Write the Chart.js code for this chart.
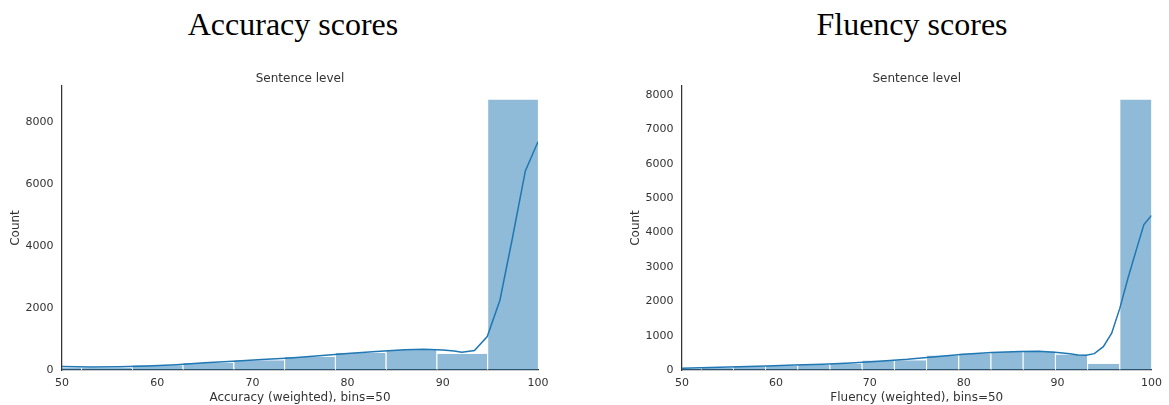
<!DOCTYPE html>
<html><head><meta charset="utf-8">
<script src="https://cdn.jsdelivr.net/npm/chart.js@4/dist/chart.umd.min.js"></script>
<style>
html,body{margin:0;padding:0;background:#fff;width:1169px;height:405px;overflow:hidden}
.wrap{position:absolute;top:0;height:405px}
.big{position:absolute;top:4px;font-family:'Liberation Serif',serif;font-size:32px;color:#000;white-space:nowrap;transform:translateX(-50%);line-height:40px}
canvas{display:block}
</style></head><body>
<div class="big" style="left:293px">Accuracy scores</div>
<div class="big" style="left:912px">Fluency scores</div>
<div class="wrap" style="left:0;width:584px"><canvas id="c1" width="584" height="405"></canvas></div>
<div class="wrap" style="left:584px;width:585px"><canvas id="c2" width="585" height="405"></canvas></div>
<script>
// ---- Accuracy (left) ----
const accBinCenters = [49.33, 54.67, 60.00, 65.33, 70.67, 76.00, 81.33, 86.67, 92.00, 97.33];
const accCounts     = [75, 75, 150, 226, 312, 430, 559, 645, 527, 8720];
const accKdeX = [50, 53, 56, 59, 62, 65, 68, 71, 74, 77, 80, 83, 86, 88, 90, 91.2, 92, 93.33, 94.67, 96, 97.33, 98.67, 100];
const accKdeY = [110, 100, 105, 130, 170, 230, 280, 335, 390, 460, 535, 600, 650, 665, 645, 610, 575, 625, 1080, 2250, 4280, 6420, 7360];
const accYTicks = [0, 2000, 4000, 6000, 8000];

// ---- Fluency (right) ----
const fluBinCenters = [50.27, 53.70, 57.13, 60.56, 63.99, 67.42, 70.85, 74.28, 77.71, 81.14, 84.57, 88.00, 91.43, 94.86, 98.29];
const fluCounts     = [40, 58, 88, 117, 146, 172, 280, 282, 420, 480, 530, 545, 452, 185, 7872];
const fluKdeX = [50, 53, 56, 59, 62, 65, 68, 71, 74, 77, 80, 83, 86, 88, 90, 91.3, 92.17, 93.04, 93.91, 94.87, 95.76, 96.63, 97.5, 98.39, 99.19, 100];
const fluKdeY = [50, 70, 95, 120, 145, 168, 205, 255, 310, 385, 455, 510, 540, 545, 510, 470, 440, 428, 476, 680, 1071, 1800, 2677, 3504, 4234, 4496];
const fluYTicks = [0, 1000, 2000, 3000, 4000, 5000, 6000, 7000, 8000];

const xTicks = [50, 60, 70, 80, 90, 100];
const subTitle = 'Sentence level';
const yTitle = 'Count';

const FONT = "'DejaVu Sans', sans-serif";
const TXT = '#333333';

function makeChart(id, o) {
  const yMax = Math.max(...o.counts) * 1.05;
  return new Chart(document.getElementById(id), {
    type: 'bar',
    data: { datasets: [
      { type: 'line', data: o.kdeX.map((x, i) => ({x, y: o.kdeY[i]})),
        borderColor: '#1f77b4', borderWidth: 1.5, pointRadius: 0, tension: 0, fill: false, order: 0 },
      { type: 'bar', data: o.centers.map((x, i) => ({x, y: o.counts[i]})),
        backgroundColor: 'rgba(31,119,180,0.5)', borderColor: '#ffffff',
        borderWidth: {left: 1, right: 0, top: 0, bottom: 0}, borderSkipped: false,
        inflateAmount: 0, barPercentage: 1, categoryPercentage: 1, clip: 0, order: 1 }
    ]},
    options: {
      responsive: false, animation: false,
      layout: { padding: { left: o.padLeft, right: o.padRight, top: 71.6, bottom: 0 } },
      plugins: {
        legend: { display: false }, tooltip: { enabled: false },
        title: { display: true, text: subTitle, fullSize: false, color: TXT,
          font: { family: FONT, size: 12, weight: 'normal' }, padding: { top: 0, bottom: 0 } }
      },
      scales: {
        x: { type: 'linear', min: 50, max: 100, offset: false,
          grid: { display: false, offset: false, drawTicks: false },
          border: { display: true, color: '#333333', width: 1.25 },
          ticks: { color: TXT, font: { family: FONT, size: 11 }, padding: 7, maxRotation: 0, autoSkip: false,
            callback: v => String(v) },
          afterBuildTicks: s => { s.ticks = xTicks.map(v => ({value: v})); },
          afterFit: s => { s.height = 35; },
          title: { display: true, text: o.xTitle, color: TXT, font: { family: FONT, size: 12 }, padding: { top: 0, bottom: 0 } } },
        y: { type: 'linear', min: 0, max: yMax,
          grid: { display: false, drawTicks: false },
          border: { display: true, color: '#333333', width: 1.25 },
          ticks: { color: TXT, font: { family: FONT, size: 11 }, padding: 8.5, autoSkip: false,
            callback: v => String(v) },
          afterBuildTicks: s => { s.ticks = o.yTicks.map(v => ({value: v})); },
          afterFit: s => { s.width = 62; },
          title: { display: true, text: yTitle, color: TXT, font: { family: FONT, size: 12 }, padding: { top: 8.8, bottom: 0 } } }
      }
    }
  });
}

makeChart('c1', { centers: accBinCenters, counts: accCounts, kdeX: accKdeX, kdeY: accKdeY,
  yTicks: accYTicks, xTitle: 'Accuracy (weighted), bins=50', padLeft: 0, padRight: 46 });
makeChart('c2', { centers: fluBinCenters, counts: fluCounts, kdeX: fluKdeX, kdeY: fluKdeY,
  yTicks: fluYTicks, xTitle: 'Fluency (weighted), bins=50', padLeft: 36, padRight: 12 });
</script>
</body></html>
